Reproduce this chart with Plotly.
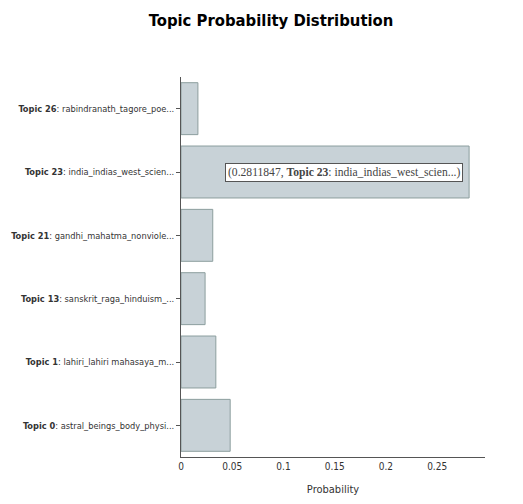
import plotly.graph_objects as go

topic_ids = [0, 1, 13, 21, 23, 26]
topic_words = [
    "astral_beings_body_physi...",
    "lahiri_lahiri mahasaya_m...",
    "sanskrit_raga_hinduism_...",
    "gandhi_mahatma_nonviole...",
    "india_indias_west_scien...",
    "rabindranath_tagore_poe...",
]
probabilities = [0.048, 0.034, 0.0235, 0.031, 0.2811847, 0.0165]
x_ticks = [0, 0.05, 0.1, 0.15, 0.2, 0.25]

labels = [f"<b>Topic {t}</b>: {w}" for t, w in zip(topic_ids, topic_words)]

fig = go.Figure(go.Bar(
    x=probabilities,
    y=labels,
    orientation="h",
    marker=dict(color="#C8D2D7", line=dict(color="#8C9E9E", width=1)),
))

# static rendition of the hover label on the largest bar
imax = probabilities.index(max(probabilities))
fig.add_annotation(
    x=probabilities[imax], y=labels[imax], xref="x", yref="y",
    text=f"({probabilities[imax]}, <b>Topic {topic_ids[imax]}</b>: {topic_words[imax]})",
    showarrow=False, xanchor="right", xshift=-6,
    bgcolor="white", bordercolor="#555", borderwidth=1, borderpad=2,
    font=dict(family="Liberation Serif", size=11.6, color="#444"),
)

fig.update_layout(
    width=523, height=504,
    margin=dict(l=173, r=46, t=69, b=55),
    paper_bgcolor="white", plot_bgcolor="white",
    title=dict(text="<b>Topic Probability Distribution</b>", x=0.503, xanchor="center",
               y=0.976, yanchor="middle",
               font=dict(family="DejaVu Sans Condensed", size=16.5, color="black")),
    font=dict(family="DejaVu Sans Condensed", size=9.2, color="#333"),
    bargap=0.18,
    showlegend=False,
    xaxis=dict(range=[0, 0.2967], tickvals=x_ticks, ticktext=[str(v) for v in x_ticks],
               showgrid=False, zeroline=False, showline=True, linecolor="#555", linewidth=1,
               ticks="", automargin=False, tickfont=dict(size=10),
               title=dict(text="Probability", font=dict(size=11), standoff=14)),
    yaxis=dict(showgrid=False, zeroline=False, showline=True, linecolor="#555", linewidth=1,
               ticks="outside", ticklen=4, tickcolor="#555", automargin=False),
)

fig.write_html("out.html")
